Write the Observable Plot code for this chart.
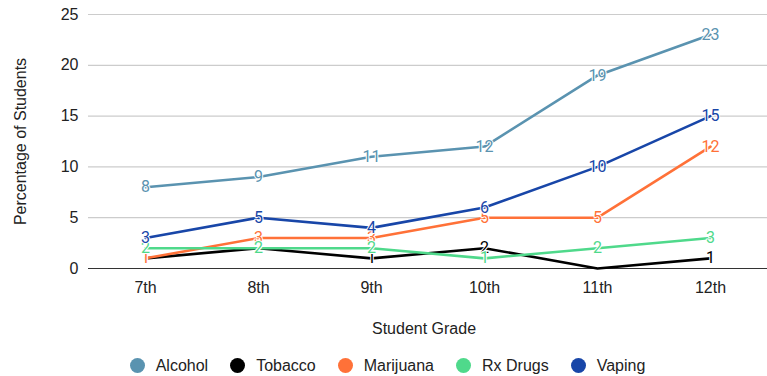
<!DOCTYPE html>
<html><head><meta charset="utf-8">
<script src="https://cdn.jsdelivr.net/npm/d3@7"></script>
<script src="https://cdn.jsdelivr.net/npm/@observablehq/plot@0.6"></script>
<style>
body{margin:0;background:#fff;font-family:"Liberation Sans",Arial,sans-serif;}
#legend{display:flex;justify-content:center;align-items:center;height:31px;font-size:16px;color:#222;padding-left:8px;}
.item{display:flex;align-items:center;margin:0 11px;}
.dot{width:15px;height:15px;border-radius:50%;margin-right:11px;}
</style></head><body><div id="chart"></div><div id="legend"></div>
<script>
const grades = ["7th","8th","9th","10th","11th","12th"];
const alcohol = [8,9,11,12,19,23];
const tobacco = [1,2,1,2,0,1];
const marijuana = [1,3,3,5,5,12];
const rxDrugs = [2,2,2,1,2,3];
const vaping = [3,5,4,6,10,15];
const seriesNames = ["Alcohol","Tobacco","Marijuana","Rx Drugs","Vaping"];
const seriesColors = ["#5a93b0","#000000","#ff7138","#4fd98b","#1846a8"];
const yTicks = [0,5,10,15,20,25];

const seriesValues = [alcohol, tobacco, marijuana, rxDrugs, vaping];
const rows = [];
seriesNames.forEach((s,i)=>grades.forEach((g,j)=>rows.push({series:s, grade:g, value:seriesValues[i][j]})));

const chart = Plot.plot({
  width:767, height:350, marginLeft:88, marginRight:0, marginTop:14, marginBottom:82,
  style:{fontFamily:"Liberation Sans, Arial, sans-serif", fontSize:"16px", color:"#222", background:"#fff"},
  x:{type:"point", domain:grades, padding:0.5, label:null},
  y:{domain:[0,25], label:null},
  color:{domain:seriesNames, range:seriesColors},
  marks:[
    Plot.gridY(yTicks,{stroke:"#cccccc", strokeOpacity:1, strokeWidth:1.2}),
    Plot.axisY(yTicks,{tickSize:0, tickPadding:10, label:null, fontSize:16}),
    Plot.axisX({tickSize:0, tickPadding:13, label:null, fontSize:16}),
    Plot.ruleY([0],{stroke:"#333", strokeWidth:1.2}),
    Plot.text(["Percentage of Students"],{frameAnchor:"left", textAnchor:"middle", rotate:-90, dx:-68, fontSize:16, fill:"#222"}),
    Plot.text(["Student Grade"],{frameAnchor:"bottom", dy:65, dx:-4, fontSize:16, fill:"#222"}),
    Plot.line(rows,{x:"grade", y:"value", z:"series", stroke:"series", strokeWidth:2.6}),
    Plot.text(rows.filter(d=>d.value>0),{x:"grade", y:"value", text:d=>String(d.value), fill:"series", stroke:"white", strokeWidth:2, fontSize:16, fontFamily:"Roboto, sans-serif"})
  ]
});
document.getElementById("chart").appendChild(chart);

const legend = document.getElementById("legend");
seriesNames.forEach((s,i)=>{
  const it = document.createElement("div"); it.className="item";
  const d = document.createElement("span"); d.className="dot"; d.style.background=seriesColors[i];
  const t = document.createElement("span"); t.textContent=s;
  it.appendChild(d); it.appendChild(t); legend.appendChild(it);
});
</script></body></html>
